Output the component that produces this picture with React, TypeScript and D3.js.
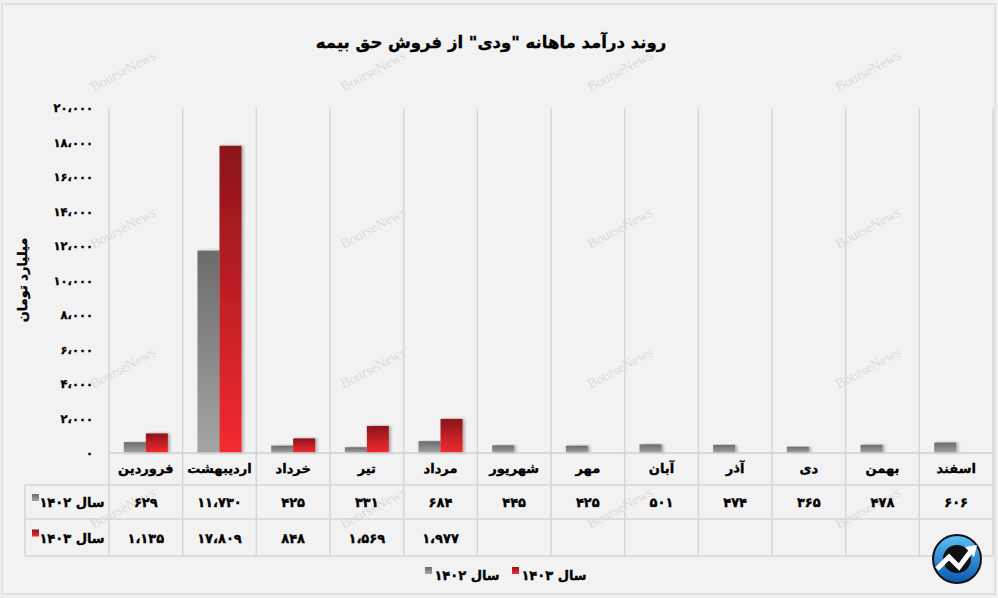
import React from "react";
import * as d3 from "d3";

const title = "روند درآمد ماهانه \"ودی\" از فروش حق بیمه";
const yAxisTitle = "میلیارد تومان";
const months = ["فروردین", "اردیبهشت", "خرداد", "تیر", "مرداد", "شهریور", "مهر", "آبان", "آذر", "دی", "بهمن", "اسفند"];
const seriesNames = ["سال ۱۴۰۲", "سال ۱۴۰۳"];
const sales1402 = [629, 11730, 425, 331, 684, 445, 425, 501, 474, 365, 478, 606];
const sales1403 = [1135, 17809, 848, 1569, 1977];
const yMax = 20000;

const W = 998, H = 598;
const fa = (n: number) =>
  d3.format(",")(n).replace(/,/g, "\u060C").replace(/[0-9]/g, (d) => "۰۱۲۳۴۵۶۷۸۹"[+d]);

const FONT = "'DejaVu Sans', sans-serif";

export default function App() {
  const plotL = 109, plotR = 993, plotT = 108, plotB = 453;
  const x = d3.scaleBand<string>().domain(months).range([plotL, plotR]).paddingInner(0).paddingOuter(0);
  const xs = d3.scaleBand<string>().domain(["1402", "1403"]).range([0, x.bandwidth()]).paddingInner(0).paddingOuter(0.675);
  const y = d3.scaleLinear().domain([0, yMax]).range([plotB, plotT]);
  const ticks = y.ticks(10);
  const series = [
    { key: "1402", vals: sales1402, grad: "gGray" },
    { key: "1403", vals: sales1403, grad: "gRed" },
  ];
  const rowTop = 485, rowMid = 519, rowBot = 556, tableL = 25;
  const gridColor = "#d6d6d6";
  const wmX = [125, 375, 622, 870];
  const wmY = [75, 232, 372, 512];
  const heavy = { stroke: "#000", strokeWidth: 0.35 };

  return (
    <svg width={W} height={H} style={{ position: "absolute", left: 0, top: 0, display: "block" }} fontFamily={FONT}>
      <defs>
        <linearGradient id="gGray" x1="0" y1="0" x2="0" y2="1">
          <stop offset="0" stopColor="#6b6b6b" />
          <stop offset="1" stopColor="#a5a5a5" />
        </linearGradient>
        <linearGradient id="gRed" x1="0" y1="0" x2="0" y2="1">
          <stop offset="0" stopColor="#8a1519" />
          <stop offset="1" stopColor="#f52a30" />
        </linearGradient>
        <linearGradient id="gLogo" x1="0" y1="0" x2="0" y2="1">
          <stop offset="0" stopColor="#5cc0f5" />
          <stop offset="1" stopColor="#0a58b0" />
        </linearGradient>
        <filter id="shadow" x="-30%" y="-10%" width="160%" height="120%">
          <feDropShadow dx="2" dy="0" stdDeviation="1.5" floodColor="#000" floodOpacity="0.3" />
        </filter>
      </defs>
      <rect x={0} y={0} width={W} height={H} fill="#f1f1f1" />
      <rect x={2} y={4} width={993} height={590} fill="#f2f2f2" stroke="#dcdcdc" strokeWidth={1.5} />

      {/* watermarks */}
      {wmY.map((wy) =>
        wmX.map((wx) => (
          <text key={wx + "-" + wy} x={wx} y={wy} textAnchor="middle" fontFamily="'Liberation Serif', serif" fontSize={14}
            fill="#dcdcdc" transform={`rotate(-28 ${wx} ${wy})`}>BourseNews</text>
        ))
      )}

      <text x={491} y={48} textAnchor="middle" fontSize={16.5} fontWeight="bold" fill="#000" {...heavy} direction="rtl" style={{ unicodeBidi: "embed" }}>{title}</text>

      {/* vertical gridlines (through table) */}
      {months.map((m) => (
        <line key={m} x1={x(m)!} x2={x(m)!} y1={plotT} y2={rowBot} stroke={gridColor} strokeWidth={1.5} />
      ))}
      <line x1={plotR} x2={plotR} y1={plotT} y2={rowBot} stroke={gridColor} strokeWidth={1.5} />
      <line x1={tableL} x2={tableL} y1={rowTop} y2={rowBot} stroke={gridColor} strokeWidth={1.5} />
      {[rowTop, rowMid, rowBot].map((ry) => (
        <line key={ry} x1={tableL} x2={plotR} y1={ry} y2={ry} stroke={gridColor} strokeWidth={1.5} />
      ))}

      {/* y axis ticks */}
      {ticks.map((t) => (
        <text key={t} x={93} y={y(t) + 4} textAnchor="end" fontSize={11.5} fontWeight="bold" fill="#000" {...heavy}>{fa(t)}</text>
      ))}
      <text x={27} y={280} textAnchor="middle" fontSize={13} fontWeight="bold" {...heavy} transform="rotate(-90 27 280)" direction="rtl" style={{ unicodeBidi: "embed" }}>{yAxisTitle}</text>

      {/* bars */}
      {series.map((s) =>
        s.vals.map((v, i) => (
          <rect key={s.key + i} x={x(months[i])! + xs(s.key)!} y={y(v)} width={xs.bandwidth()} height={plotB - y(v)}
            fill={`url(#${s.grad})`} filter="url(#shadow)" />
        ))
      )}
      <line x1={plotL} x2={plotR} y1={plotB} y2={plotB} stroke="#cfcfcf" strokeWidth={1.5} />

      {/* table header */}
      {months.map((m) => (
        <text key={m} x={x(m)! + x.bandwidth() / 2} y={473} textAnchor="middle" fontSize={13} fontWeight="bold" {...heavy} direction="rtl" style={{ unicodeBidi: "embed" }}>{m}</text>
      ))}
      {series.map((s, si) => {
        const cy = si === 0 ? (rowTop + rowMid) / 2 : (rowMid + rowBot) / 2;
        return (
          <g key={s.key}>
            <rect x={32} y={cy - 8} width={7} height={7} fill={`url(#${s.grad})`} />
            <text x={72} y={cy + 5} textAnchor="middle" fontSize={13} fontWeight="bold" {...heavy} direction="rtl" style={{ unicodeBidi: "embed" }}>{seriesNames[si]}</text>
            {s.vals.map((v, i) => (
              <text key={i} x={x(months[i])! + x.bandwidth() / 2} y={cy + 5} textAnchor="middle" fontSize={13} fontWeight="bold" {...heavy}>{fa(v)}</text>
            ))}
          </g>
        );
      })}

      {/* legend */}
      <rect x={425} y={567} width={7} height={7} fill="url(#gGray)" />
      <text x={467} y={580} textAnchor="middle" fontSize={13} fontWeight="bold" {...heavy} direction="rtl" style={{ unicodeBidi: "embed" }}>{seriesNames[0]}</text>
      <rect x={512} y={567} width={7} height={7} fill="url(#gRed)" />
      <text x={554} y={580} textAnchor="middle" fontSize={13} fontWeight="bold" {...heavy} direction="rtl" style={{ unicodeBidi: "embed" }}>{seriesNames[1]}</text>

      {/* logo */}
      <g transform="translate(957 559)">
        <circle r={24} fill="url(#gLogo)" stroke="#111" strokeWidth={2} />
        <circle r={14} fill="#111" />
        <path d="M-20 10 L-8 -2 L2 8 L14 -8" fill="none" stroke="#fff" strokeWidth={5} strokeLinejoin="miter" />
        <path d="M8 -12 L20 -14 L17 -2 Z" fill="#fff" />
      </g>
    </svg>
  );
}
